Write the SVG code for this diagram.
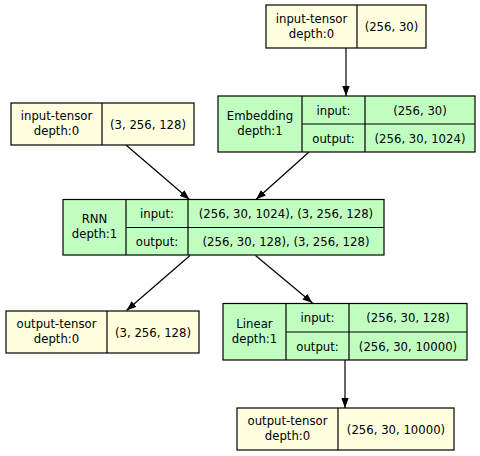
<svg xmlns="http://www.w3.org/2000/svg" width="480" height="456" viewBox="0 0 480 456">
<defs>
<style>
.y{fill:#ffffe0;stroke:#000;stroke-width:1.2}
.g{fill:#c1ffc1;stroke:#000;stroke-width:1.2}
.d{stroke:#000;stroke-width:1.2;fill:none}
text{font-family:"DejaVu Sans",Verdana,sans-serif;font-size:11.7px;fill:#000;text-anchor:middle}
.e{stroke:#000;stroke-width:1.2;fill:none;marker-end:url(#ah)}
</style>
<marker id="ah" markerUnits="userSpaceOnUse" markerWidth="11" markerHeight="8" refX="10" refY="4" orient="auto">
<path d="M0,0.3 L10,4 L0,7.7 z" fill="#000"/>
</marker>
</defs>
<rect width="480" height="456" fill="#fff"/>
<g id="edges">
<path class="e" d="M346,48 L346,96"/>
<path class="e" d="M126,145 L189.5,199.5"/>
<path class="e" d="M309,152 L256,199.5"/>
<path class="e" d="M190,255.5 L126.5,310.5"/>
<path class="e" d="M255.5,255.5 L312.5,303"/>
<path class="e" d="M345,360 L345,408"/>
</g>
<g id="input-top">
<rect class="y" x="266" y="5" width="160" height="43"/>
<path class="d" d="M357,5 V48"/>
<text x="311.5" y="22.5">input-tensor</text>
<text x="311.5" y="37.5">depth:0</text>
<text x="391.5" y="31">(256, 30)</text>
</g>
<g id="embedding">
<rect class="g" x="218" y="96" width="257" height="56"/>
<path class="d" d="M302,96 V152 M365,96 V152 M302,124 H475"/>
<text x="260" y="120">Embedding</text>
<text x="260" y="135">depth:1</text>
<text x="333.5" y="114.5">input:</text>
<text x="420" y="114.5">(256, 30)</text>
<text x="333.5" y="142.5">output:</text>
<text x="420" y="142.5">(256, 30, 1024)</text>
</g>
<g id="input-left">
<rect class="y" x="11" y="103" width="183" height="42"/>
<path class="d" d="M102,103 V145"/>
<text x="56.5" y="120">input-tensor</text>
<text x="56.5" y="135">depth:0</text>
<text x="148" y="128.5">(3, 256, 128)</text>
</g>
<g id="rnn">
<rect class="g" x="63" y="199.5" width="321" height="55.5"/>
<path class="d" d="M126,199.5 V255 M188,199.5 V255 M126,227.5 H384"/>
<text x="94.5" y="223">RNN</text>
<text x="94.5" y="238">depth:1</text>
<text x="157" y="217.5">input:</text>
<text x="286" y="217.5">(256, 30, 1024), (3, 256, 128)</text>
<text x="157" y="245.5">output:</text>
<text x="286" y="245.5">(256, 30, 128), (3, 256, 128)</text>
</g>
<g id="output-left">
<rect class="y" x="6" y="311" width="193" height="42"/>
<path class="d" d="M107,311 V353"/>
<text x="56.5" y="328">output-tensor</text>
<text x="56.5" y="343">depth:0</text>
<text x="153" y="336.5">(3, 256, 128)</text>
</g>
<g id="linear">
<rect class="g" x="223" y="303.5" width="244" height="56.5"/>
<path class="d" d="M286,303.5 V360 M349,303.5 V360 M286,332 H467"/>
<text x="254.5" y="328">Linear</text>
<text x="254.5" y="343">depth:1</text>
<text x="317.5" y="322">input:</text>
<text x="408" y="322">(256, 30, 128)</text>
<text x="317.5" y="350.5">output:</text>
<text x="408" y="350.5">(256, 30, 10000)</text>
</g>
<g id="output-bottom">
<rect class="y" x="237" y="408" width="217" height="42"/>
<path class="d" d="M338,408 V450"/>
<text x="287.5" y="425">output-tensor</text>
<text x="287.5" y="440">depth:0</text>
<text x="396" y="433.5">(256, 30, 10000)</text>
</g>
</svg>
